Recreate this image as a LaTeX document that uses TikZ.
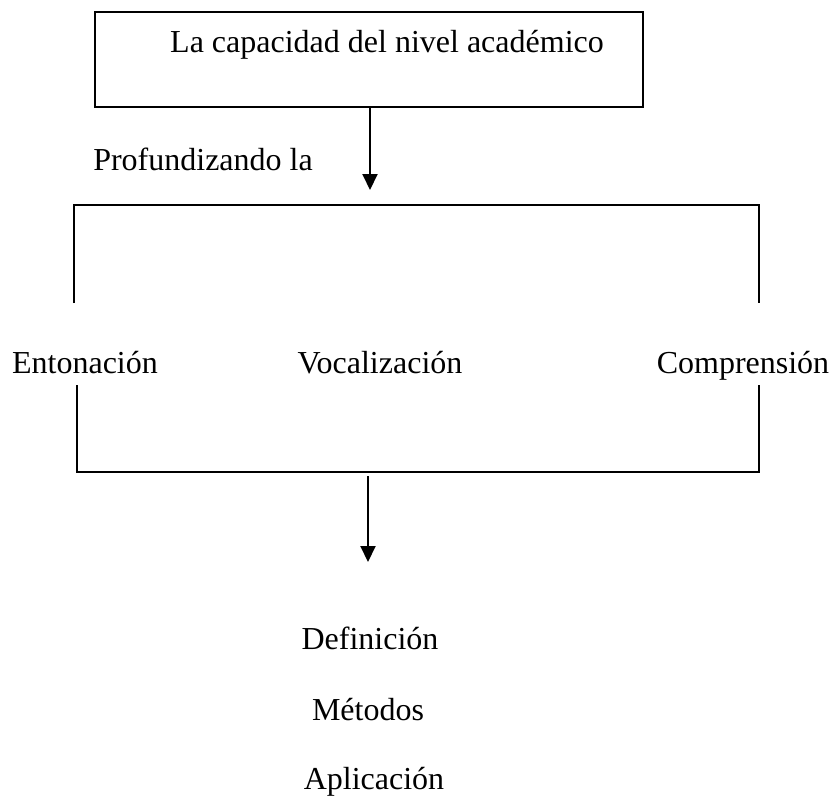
\documentclass[tikz,border=0pt]{standalone}
\usepackage{fontspec}
\setmainfont{Liberation Serif}
\usetikzlibrary{arrows.meta}
\begin{document}
\begin{tikzpicture}[x=1pt,y=-1pt,
  lbl/.style={font=\fontsize{32}{38}\selectfont, inner sep=0pt, anchor=base},
  ln/.style={line width=2pt},
  arr/.style={line width=2pt,-{Triangle[width=15pt,length=16pt]}}]
\useasboundingbox (0,0) rectangle (835,803);
\node[draw, line width=2pt, minimum width=548pt, minimum height=95pt, anchor=north west, inner sep=0pt] (top) at (94,11) {};
\node[lbl] (title) at (387,52) {La capacidad del nivel académico};
\coordinate (a1s) at (370,106);
\coordinate (a1e) at (370,190);
\draw[arr] (a1s) -- (a1e);
\node[lbl] (prof) at (203,170) {Profundizando la};
% upper bracket
\coordinate (ub1) at (74,303);
\coordinate (ub2) at (74,205);
\coordinate (ub3) at (759,205);
\coordinate (ub4) at (759,303);
\draw[ln] (ub1) -- (ub2) -- (ub3) -- (ub4);
\node[lbl] (ent) at (85,373) {Entonación};
\node[lbl] (voc) at (380,373) {Vocalización};
\node[lbl] (com) at (743,373) {Comprensión};
% lower bracket
\coordinate (lb1) at (77,385);
\coordinate (lb2) at (77,472);
\coordinate (lb3) at (759,472);
\coordinate (lb4) at (759,385);
\draw[ln] (lb1) -- (lb2) -- (lb3) -- (lb4);
\coordinate (a2s) at (368,476);
\coordinate (a2e) at (368,562);
\draw[arr] (a2s) -- (a2e);
\node[lbl] (def) at (370,649) {Definición};
\node[lbl] (met) at (368,720) {Métodos};
\node[lbl] (apl) at (374,789) {Aplicación};
\end{tikzpicture}
\end{document}
